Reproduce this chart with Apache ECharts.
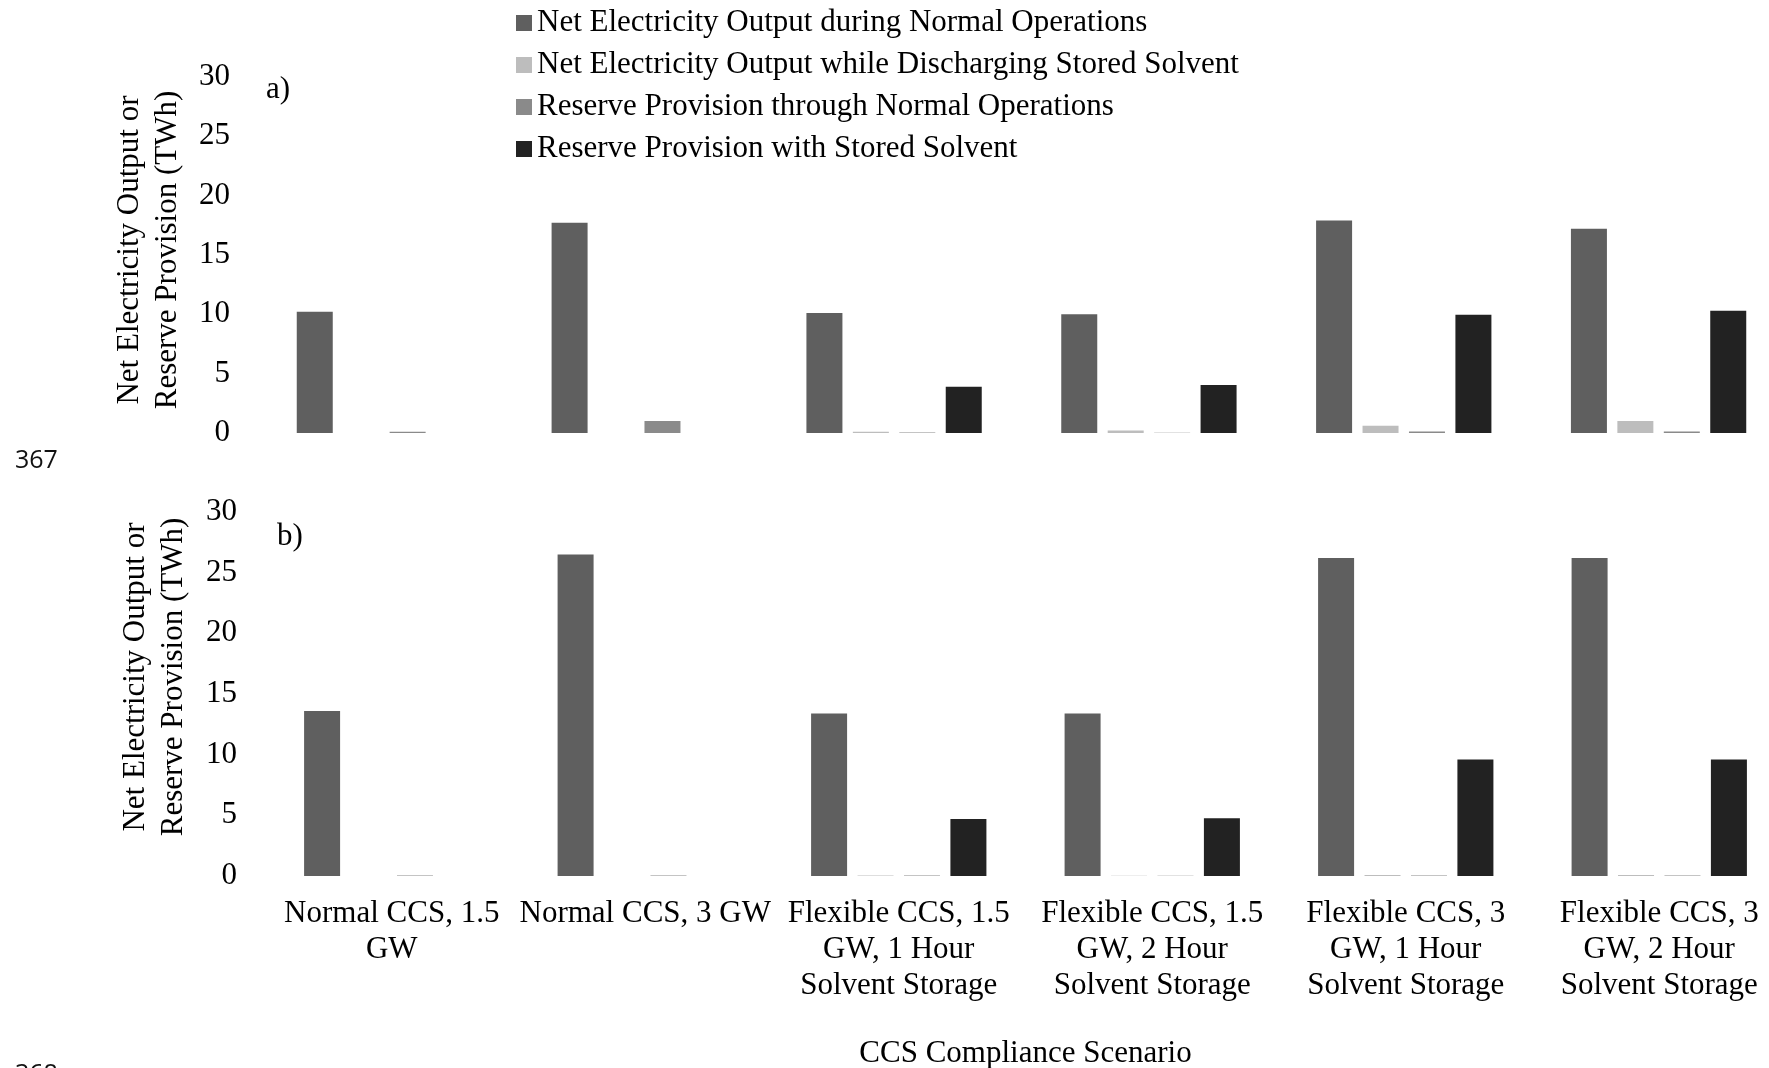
<!DOCTYPE html>
<html>
<head>
<meta charset="utf-8">
<script src="https://cdn.jsdelivr.net/npm/echarts@6/dist/echarts.min.js"></script>
<style>
html,body{margin:0;padding:0;background:#fff;overflow:hidden;width:1769px;height:1068px;}
#c{width:1800px;height:1068px;}
</style>
</head>
<body>
<div id="c"></div>
<script>
// ---- data ----
const categories = [
  "Normal CCS, 1.5\nGW",
  "Normal CCS, 3 GW",
  "Flexible CCS, 1.5\nGW, 1 Hour\nSolvent Storage",
  "Flexible CCS, 1.5\nGW, 2 Hour\nSolvent Storage",
  "Flexible CCS, 3\nGW, 1 Hour\nSolvent Storage",
  "Flexible CCS, 3\nGW, 2 Hour\nSolvent Storage"
];
const seriesNames = [
  "Net Electricity Output during Normal Operations",
  "Net Electricity Output while Discharging Stored Solvent",
  "Reserve Provision through Normal Operations",
  "Reserve Provision with Stored Solvent"
];
// panel a)
const normalOutputA    = [10.2, 17.7, 10.1, 10.0, 17.9, 17.2];
const dischargeOutputA = [0, 0, 0.1, 0.2, 0.6, 1.0];
const reserveNormalA   = [0.1, 1.0, 0.05, 0.03, 0.12, 0.12];
const reserveStoredA   = [0, 0, 3.9, 4.05, 9.95, 10.3];
// panel b)
const normalOutputB    = [13.6, 26.5, 13.4, 13.4, 26.2, 26.2];
const dischargeOutputB = [0, 0, 0.04, 0.03, 0.08, 0.08];
const reserveNormalB   = [0.05, 0.05, 0.04, 0.03, 0.04, 0.04];
const reserveStoredB   = [0, 0, 4.7, 4.75, 9.6, 9.6];

const yTickMin = 0, yTickMax = 30, yTickStep = 5;
const panelLabels = ["a)", "b)"];
const yAxisTitle = "Net Electricity Output or\nReserve Provision (TWh)";
const xAxisTitle = "CCS Compliance Scenario";
const lineNumbers = ["367", "368"];

// ---- styles ----
const colors = ["#5f5f5f", "#bdbdbd", "#8a8a8a", "#222222"];
const serif = '"Liberation Serif", "Times New Roman", serif';

const chart = echarts.init(document.getElementById('c'), null, {renderer: 'canvas'});

function bar(name, data, color, idx) {
  return {
    type: 'bar', name: name, data: data,
    xAxisIndex: idx, yAxisIndex: idx,
    barWidth: 36, barGap: '29%',
    itemStyle: {color: color},
    emphasis: {disabled: true}
  };
}
function yAx(idx, margin) {
  return {
    gridIndex: idx, type: 'value', min: yTickMin, max: yTickMax, interval: yTickStep,
    axisLine: {show: false}, axisTick: {show: false}, splitLine: {show: false},
    axisLabel: {fontSize: 31, fontFamily: serif, color: '#000', margin: margin, align: 'right'}
  };
}

const option = {
  animation: false,
  backgroundColor: '#ffffff',
  textStyle: {fontFamily: serif},
  legend: {
    orient: 'vertical', left: 516, top: 6, padding: 0,
    itemWidth: 16, itemHeight: 16, itemGap: 8, icon: 'rect',
    data: seriesNames,
    textStyle: {fontSize: 31, fontFamily: serif, color: '#000', lineHeight: 34}
  },
  grid: [
    {left: 257, top: 76.7, width: 1529, height: 356.3, outerBoundsMode: 'none', containLabel: false},
    {left: 265, top: 512, width: 1521, height: 364, outerBoundsMode: 'none', containLabel: false}
  ],
  xAxis: [
    {gridIndex: 0, type: 'category', data: categories,
     axisLine: {show: false}, axisTick: {show: false}, axisLabel: {show: false}},
    {gridIndex: 1, type: 'category', data: categories,
     axisLine: {show: false}, axisTick: {show: false},
     axisLabel: {interval: 0, fontSize: 31, lineHeight: 36, margin: 20, color: '#000', fontFamily: serif},
     name: xAxisTitle, nameLocation: 'middle', nameGap: 160,
     nameTextStyle: {fontSize: 31, fontFamily: serif, color: '#000', lineHeight: 35}}
  ],
  yAxis: [yAx(0, 27), yAx(1, 28)],
  series: [
    bar(seriesNames[0], normalOutputA, colors[0], 0),
    bar(seriesNames[1], dischargeOutputA, colors[1], 0),
    bar(seriesNames[2], reserveNormalA, colors[2], 0),
    bar(seriesNames[3], reserveStoredA, colors[3], 0),
    bar(seriesNames[0], normalOutputB, colors[0], 1),
    bar(seriesNames[1], dischargeOutputB, colors[1], 1),
    bar(seriesNames[2], reserveNormalB, colors[2], 1),
    bar(seriesNames[3], reserveStoredB, colors[3], 1)
  ],
  graphic: [
    {type: 'text', x: 266, y: 90, style: {text: panelLabels[0], font: '31px ' + serif, fill: '#000', textVerticalAlign: 'middle'}},
    {type: 'text', x: 277, y: 537, style: {text: panelLabels[1], font: '31px ' + serif, fill: '#000', textVerticalAlign: 'middle'}},
    {type: 'text', x: 149, y: 250, rotation: Math.PI / 2,
     style: {text: yAxisTitle, font: '31px ' + serif, fill: '#000', textAlign: 'center', textVerticalAlign: 'middle', lineHeight: 38}},
    {type: 'text', x: 155, y: 677, rotation: Math.PI / 2,
     style: {text: yAxisTitle, font: '31px ' + serif, fill: '#000', textAlign: 'center', textVerticalAlign: 'middle', lineHeight: 38}},
    {type: 'text', x: 15, y: 461, style: {text: lineNumbers[0], font: '25px "Open Sans", sans-serif', fill: '#111', textVerticalAlign: 'middle'}},
    {type: 'text', x: 15, y: 1062, style: {text: lineNumbers[1], font: '25px "Open Sans", sans-serif', fill: '#111', textVerticalAlign: 'top'}}
  ]
};
chart.setOption(option);
</script>
</body>
</html>
